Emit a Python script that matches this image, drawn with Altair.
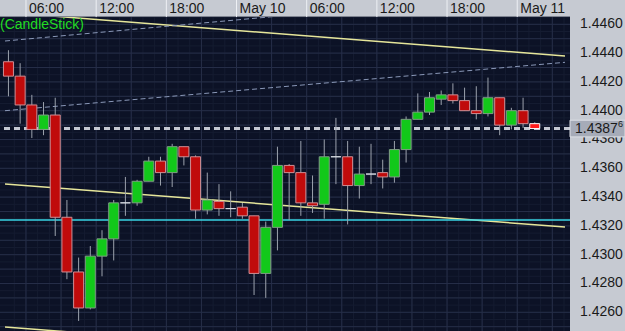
import altair as alt
import pandas as pd

# ---- data (hourly candles, hour counted from May 9 00:00) ----
hours = list(range(4, 50))
opens = [1.4434, 1.4424, 1.4404, 1.4387, 1.4397, 1.4326, 1.4288, 1.4263, 1.4299, 1.4311,
         1.4336, 1.4336, 1.4351, 1.4365, 1.4357, 1.4375, 1.4368, 1.4331, 1.4337, 1.4332,
         1.4333, 1.4327, 1.4287, 1.4319, 1.4362, 1.4357, 1.4336, 1.4335, 1.4368, 1.4368,
         1.4348, 1.4356, 1.4357, 1.4354, 1.4373, 1.4394, 1.4399, 1.4408, 1.4411, 1.4407,
         1.4400, 1.4398, 1.4409, 1.4390, 1.4400, 1.4391]
highs = [1.4442, 1.4433, 1.4411, 1.4406, 1.4409, 1.4338, 1.4298, 1.4306, 1.4317, 1.4338,
         1.4354, 1.4352, 1.4368, 1.4368, 1.4377, 1.4375, 1.4369, 1.4357, 1.4349, 1.4344,
         1.4336, 1.4327, 1.4323, 1.4375, 1.4363, 1.4379, 1.4355, 1.4380, 1.4395, 1.4379,
         1.4375, 1.4377, 1.4366, 1.4379, 1.4396, 1.4412, 1.4413, 1.4414, 1.4419, 1.4416,
         1.4417, 1.4423, 1.4409, 1.4402, 1.4409, 1.4392]
lows = [1.4410, 1.4391, 1.4381, 1.4383, 1.4313, 1.4283, 1.4254, 1.4262, 1.4285, 1.4296,
        1.4327, 1.4334, 1.4351, 1.4348, 1.4347, 1.4362, 1.4325, 1.4328, 1.4327, 1.4326,
        1.4325, 1.4272, 1.4270, 1.4303, 1.4324, 1.4327, 1.4329, 1.4325, 1.4349, 1.4321,
        1.4339, 1.4349, 1.4346, 1.4350, 1.4364, 1.4394, 1.4397, 1.4404, 1.4405, 1.4400,
        1.4394, 1.4396, 1.4383, 1.4387, 1.4388, 1.43876]
closes = [1.4424, 1.4404, 1.4387, 1.4397, 1.4326, 1.4288, 1.4263, 1.4299, 1.4311, 1.4336,
          1.4336, 1.4351, 1.4365, 1.4357, 1.4375, 1.4368, 1.4331, 1.4338, 1.4332, 1.4332,
          1.4327, 1.4287, 1.4319, 1.4362, 1.4357, 1.4336, 1.4334, 1.4368, 1.4368, 1.4348,
          1.4356, 1.4356, 1.4354, 1.4373, 1.4394, 1.4399, 1.4409, 1.4411, 1.4407, 1.4400,
          1.4398, 1.4409, 1.4390, 1.4400, 1.4391, 1.43876]

# trend lines: (id, hour, price)
line_ids = ["up_y", "up_y", "mid_y", "mid_y", "low_y", "low_y"]
line_hours = [4.206, 52.085, 4.206, 52.085, 4.206, 52.085]
line_prices = [1.44683, 1.44380, 1.43491, 1.43192, 1.42498, 1.42199]

dash_ids = ["d1", "d1", "d2", "d2"]
dash_hours = [4.206, 52.085, 4.206, 52.085]
dash_prices = [1.44484, 1.44838, 1.44000, 1.44336]

support_level = [1.43241]
last_price = [1.43876]

tick_hours = [6, 12, 18, 24, 30, 36, 42, 48]
tick_labels = ["06:00", "12:00", "18:00", "May 10", "06:00", "12:00", "18:00", "May 11"]

price_ticks = [1.4260, 1.4280, 1.4300, 1.4320, 1.4340, 1.4360, 1.4380, 1.4400, 1.4420, 1.4440, 1.4460]

# ---- frames ----
df = pd.DataFrame({"hour": hours, "open": opens, "high": highs, "low": lows, "close": closes})
kinds = []
for i, (o, c) in enumerate(zip(opens, closes)):
    if i == len(opens) - 1:
        kinds.append("live")
    elif c > o:
        kinds.append("up")
    elif c < o:
        kinds.append("down")
    else:
        kinds.append("doji")
df["kind"] = kinds

lines_df = pd.DataFrame({"id": line_ids, "hour": line_hours, "price": line_prices})
dash_df = pd.DataFrame({"id": dash_ids, "hour": dash_hours, "price": dash_prices})
sup_df = pd.DataFrame({"price": support_level})
last_df = pd.DataFrame({"price": last_price})
xt_df = pd.DataFrame({"hour": tick_hours, "label": tick_labels})
yt_df = pd.DataFrame({"price": price_ticks})

FONT = "Liberation Sans"
xscale = alt.Scale(domain=[4.206, 52.085], nice=False, zero=False)
yscale = alt.Scale(domain=[1.424701, 1.446507], nice=False, zero=False)

FAINT = "#151c31"
MAJOR = "#262e48"

# grid lines generated in-spec
gy_minor = alt.Chart(alt.sequence(1.4250, 1.4466, 0.0005, as_="v")).mark_rule(
    color=FAINT, strokeWidth=1).encode(y=alt.Y("v:Q", scale=yscale, axis=None))
gy_major = alt.Chart(alt.sequence(1.4250, 1.4466, 0.0010, as_="v")).mark_rule(
    color=MAJOR, strokeWidth=1).encode(y=alt.Y("v:Q", scale=yscale, axis=None))
gx_minor = alt.Chart(alt.sequence(5, 53, 1, as_="v")).mark_rule(
    color=FAINT, strokeWidth=1).encode(x=alt.X("v:Q", scale=xscale, axis=None))
gx_major = alt.Chart(alt.sequence(6, 53, 3, as_="v")).mark_rule(
    color=MAJOR, strokeWidth=1).encode(x=alt.X("v:Q", scale=xscale, axis=None))

base = alt.Chart(df).transform_calculate(mid="datum.hour + 0.5")

wicks = base.mark_rule(color="#9ca2ad", strokeWidth=1).encode(
    x=alt.X("mid:Q", scale=xscale, axis=None),
    y=alt.Y("low:Q", scale=yscale, axis=None),
    y2="high:Q",
)

kind_dom = ["up", "down", "doji", "live"]
bodies = base.mark_bar(size=10, strokeWidth=1).encode(
    x=alt.X("mid:Q", scale=xscale, axis=None),
    y=alt.Y("open:Q", scale=yscale, axis=None),
    y2="close:Q",
    fill=alt.Fill("kind:N", scale=alt.Scale(domain=kind_dom,
                  range=["#12c81a", "#c00b0b", "#c8ccd4", "#ff1c1c"]), legend=None),
    stroke=alt.Stroke("kind:N", scale=alt.Scale(domain=kind_dom,
                      range=["#7f9c84", "#cf8f95", "#d6dae2", "#ffffff"]), legend=None),
)

trend = alt.Chart(lines_df).mark_line(color="#e6e69a", strokeWidth=1.5, clip=True).encode(
    x=alt.X("hour:Q", scale=xscale, axis=None),
    y=alt.Y("price:Q", scale=yscale, axis=None),
    detail="id:N",
)

dashed = alt.Chart(dash_df).mark_line(color="#8a98b8", strokeWidth=1, strokeDash=[5, 3], clip=True).encode(
    x=alt.X("hour:Q", scale=xscale, axis=None),
    y=alt.Y("price:Q", scale=yscale, axis=None),
    detail="id:N",
)

support = alt.Chart(sup_df).mark_rule(color="#38d4e4", strokeWidth=1.5).encode(
    y=alt.Y("price:Q", scale=yscale, axis=None),
)

price_line = alt.Chart(last_df).mark_rule(color="#c4c8d2", strokeWidth=3, strokeDash=[6, 4]).encode(
    y=alt.Y("price:Q", scale=yscale, axis=None),
)

# axis labels as text marks placed by the scales
x_labels = alt.Chart(xt_df).mark_text(
    align="left", baseline="middle", font=FONT, fontSize=14, color="#1a1a1a", dx=3, clip=False
).encode(x=alt.X("hour:Q", scale=xscale, axis=None), y=alt.value(-8.5), text="label:N")

y_labels = alt.Chart(yt_df).mark_text(
    align="left", baseline="middle", font=FONT, fontSize=14, color="#1a1a1a", clip=False
).encode(x=alt.value(580), y=alt.Y("price:Q", scale=yscale, axis=None),
         text=alt.Text("price:Q", format=".4f"))

price_box = alt.Chart(last_df).transform_calculate(
    lo="datum.price - 0.00058", hi="datum.price + 0.00058"
).mark_rect(fill="#a6abb8", stroke="#dde0e6", strokeWidth=1, clip=False).encode(
    x=alt.value(570), x2=alt.value(625),
    y=alt.Y("lo:Q", scale=yscale, axis=None), y2="hi:Q",
)

price_text = alt.Chart(last_df).transform_calculate(
    main="substring(format(datum.price, '.5f'), 0, 6)",
    sup="substring(format(datum.price, '.5f'), 6, 7)",
)
price_main = price_text.mark_text(align="left", baseline="middle", font=FONT, fontSize=14,
                                  color="#1a1a1a", clip=False).encode(
    x=alt.value(575), y=alt.Y("price:Q", scale=yscale, axis=None), text="main:N")
price_sup = price_text.mark_text(align="left", baseline="middle", font=FONT, fontSize=9,
                                 color="#1a1a1a", dy=-5, clip=False).encode(
    x=alt.value(618), y=alt.Y("price:Q", scale=yscale, axis=None), text="sup:N")

separators = alt.Chart(xt_df).mark_rule(color="#eef0f4", strokeWidth=1, clip=False).encode(
    x=alt.X("hour:Q", scale=xscale, axis=None), y=alt.value(-17), y2=alt.value(0),
)

title_text = alt.Chart(pd.DataFrame({"t": ["(CandleStick)"]})).mark_text(
    align="left", baseline="middle", font=FONT, fontSize=14, color="#22dc22"
).encode(x=alt.value(0), y=alt.value(8), text="t:N")

chart = alt.layer(
    gx_minor, gy_minor, gx_major, gy_major,
    trend, dashed, support, price_line, wicks, bodies,
    x_labels, y_labels, separators,
    price_box, price_main, price_sup, title_text
).properties(
    width=570, height=314,
    padding={"left": 0, "top": 17, "right": 55, "bottom": 0},
    autosize="none",
    background="#c6cad2",
).configure_view(fill="#0c1226", stroke=None)

chart.save("out.html", embed_options={"renderer": "svg", "actions": False})
